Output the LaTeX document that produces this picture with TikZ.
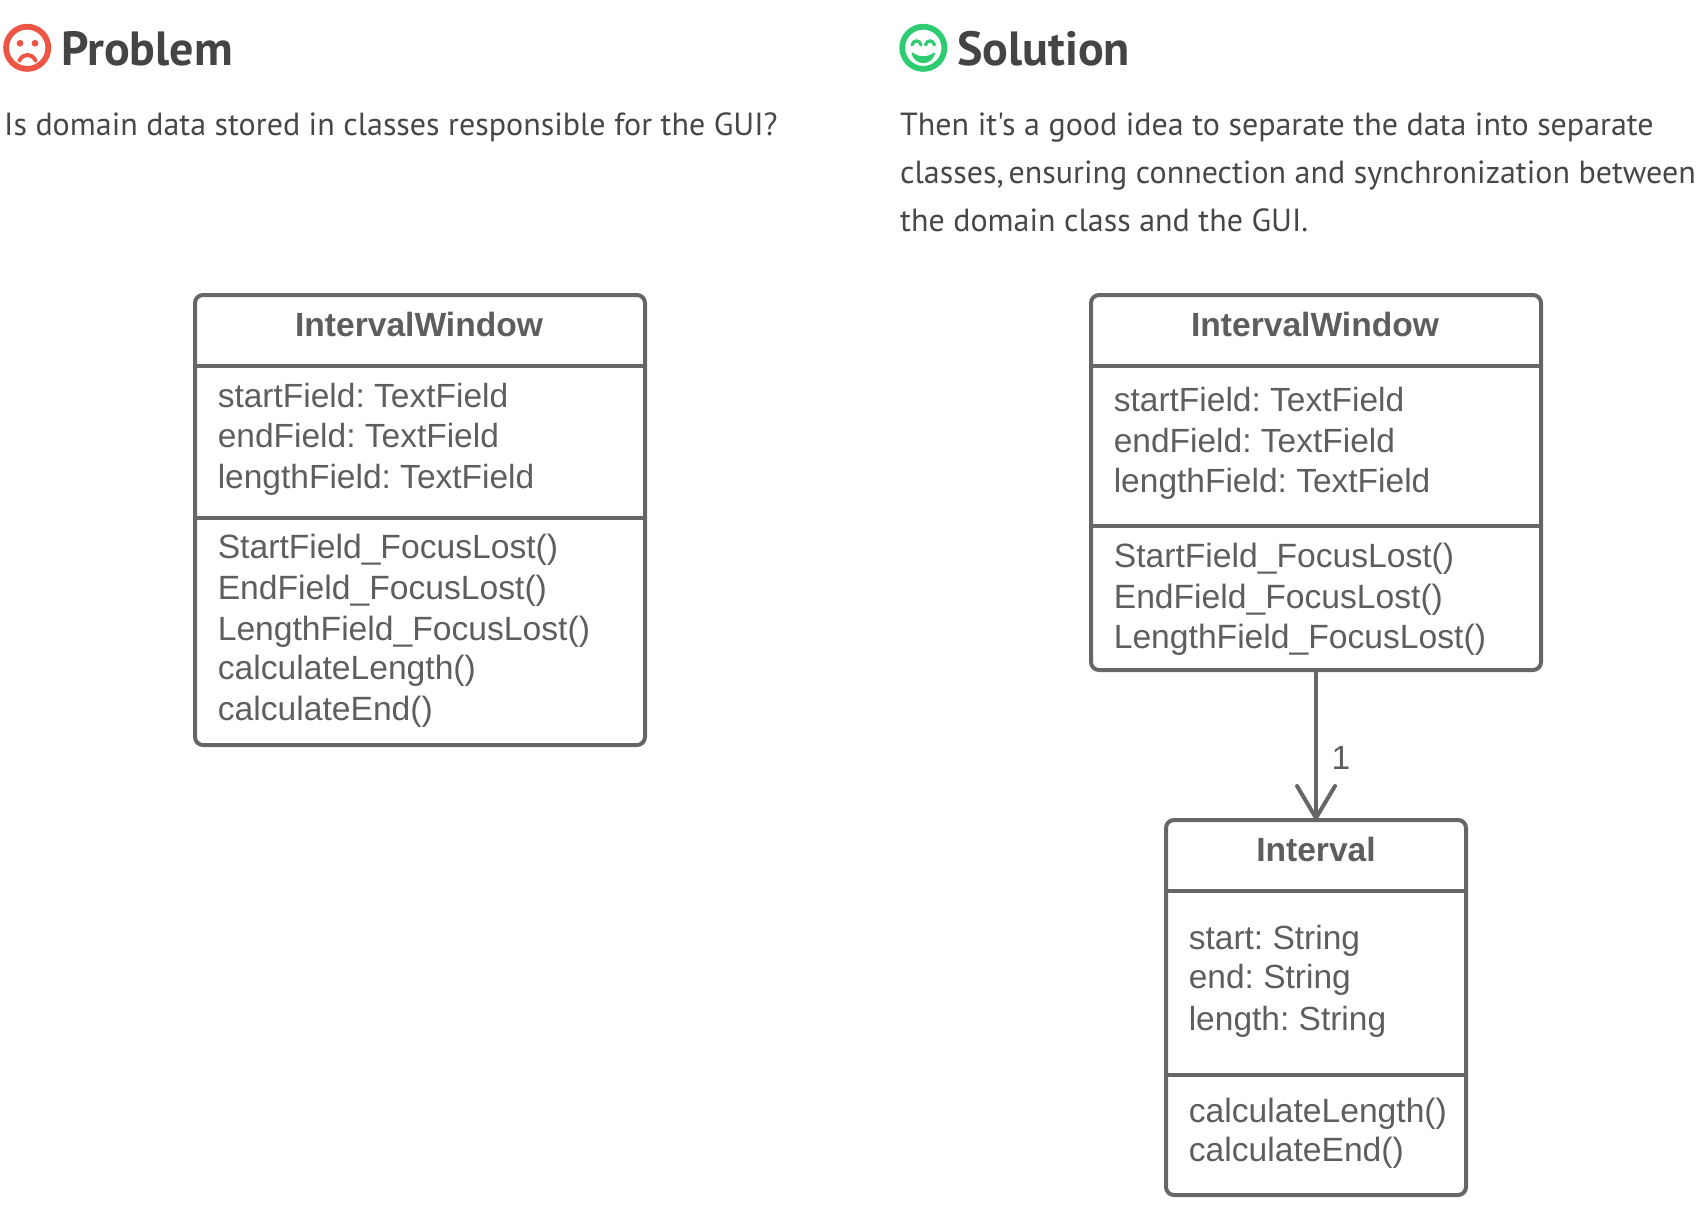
\documentclass[tikz,border=0pt]{standalone}
\usepackage{fontspec}
\setmainfont{Liberation Sans}
\newfontfamily\ptsans{PT Sans}
\usetikzlibrary{arrows.meta}
\frenchspacing
\definecolor{umlline}{HTML}{666666}
\definecolor{umltext}{HTML}{5E5E5E}
\definecolor{headtext}{HTML}{444444}
\definecolor{bodytext}{HTML}{474747}
\definecolor{sadred}{HTML}{EE5544}
\definecolor{happygreen}{HTML}{2ECC71}
\tikzset{
  umlbox/.style={draw=umlline,line width=4pt,rounded corners=8pt,inner sep=0pt,outer sep=0pt,anchor=north west},
  divider/.style={draw=umlline,line width=4pt},
  member/.style={anchor=base west,inner sep=0pt,text=umltext,font=\fontsize{33.5}{33.5}\selectfont},
  method/.style={anchor=base west,inner sep=0pt,text=umltext,font=\fontsize{33.65}{33.65}\selectfont},
  classname/.style={anchor=base,inner sep=0pt,text=umltext,font=\fontsize{33.6}{33.6}\selectfont\bfseries},
  heading/.style={anchor=base west,inner sep=0pt,text=headtext,font=\ptsans\fontsize{48}{48}\selectfont\bfseries},
  bodyline/.style={anchor=base west,inner sep=0pt,text=bodytext,font=\ptsans\fontsize{32}{32}\selectfont},
  assoc/.style={draw=umlline,line width=4pt,-{Straight Barb[length=32pt,width=38pt,line width=4pt,round]}},
}
\begin{document}
\begin{tikzpicture}[x=1pt,y=-1pt]
\useasboundingbox (0,0) rectangle (1706,1208);
% headings
\draw[sadred,line width=5.8pt] (27.2,47.8) circle (21.1);
\fill[sadred] (20,43.3) circle (3.4) (35,43.3) circle (3.4);
\draw[sadred,line width=4pt,line cap=round] (19.5,60.5) .. controls (23,53) and (32,53) .. (35.5,60.5);
\node[heading] (probhead) at (61,65) {Problem};
\node[bodyline] (prob1) at (4,135) {Is domain data stored in classes responsible for the GUI?};
\draw[happygreen,line width=5.8pt] (923.3,47.8) circle (21.1);
\draw[happygreen,line width=3.2pt,line cap=round] (912,45) .. controls (913.5,39.5) and (919.5,39.5) .. (921,45) (925.5,45) .. controls (927,39.5) and (933,39.5) .. (934.5,45);
\filldraw[happygreen,line width=2pt,line join=round] (912.5,53.5) .. controls (916,65) and (930.5,65) .. (934,53.5) .. controls (928.5,58.5) and (918,58.5) .. (912.5,53.5) -- cycle;
\node[heading] (solhead) at (957,65) {Solution};
\node[bodyline] (sol1) at (900,135) {Then it's a good idea to separate the data into separate};
\node[bodyline] (sol2) at (900,183) {classes,\kern 5pt\relax ensuring connection and synchronization between};
\node[bodyline] (sol3) at (900,231) {the domain class and the GUI.};
% left IntervalWindow
\node[umlbox,minimum width=450pt,minimum height=450pt] (winA) at (195,295) {};
\coordinate (a1) at (195,366); \coordinate (a1e) at (645,366);
\coordinate (a2) at (195,518); \coordinate (a2e) at (645,518);
\draw[divider] (a1) -- (a1e);
\draw[divider] (a2) -- (a2e);
\node[classname] (winAt) at (419,336) {IntervalWindow};
\node[member] (a01) at (217.6,407.5) {startField: TextField};
\node[member] (a02) at (217.6,447.5) {endField: TextField};
\node[member] (a03) at (217.6,488.5) {lengthField: TextField};
\node[method] (a04) at (217.6,558) {StartField\_FocusLost()};
\node[method] (a05) at (217.6,599) {EndField\_FocusLost()};
\node[method] (a06) at (217.6,640) {LengthField\_FocusLost()};
\node[method] (a07) at (217.6,679.5) {calculateLength()};
\node[method] (a08) at (217.6,720.5) {calculateEnd()};
% right IntervalWindow
\node[umlbox,minimum width=450pt,minimum height=375pt] (winB) at (1091,295) {};
\coordinate (b1) at (1091,366); \coordinate (b1e) at (1541,366);
\coordinate (b2) at (1091,526); \coordinate (b2e) at (1541,526);
\draw[divider] (b1) -- (b1e);
\draw[divider] (b2) -- (b2e);
\node[classname] (winBt) at (1315,336) {IntervalWindow};
\node[member] (b01) at (1113.6,411) {startField: TextField};
\node[member] (b02) at (1113.6,452.5) {endField: TextField};
\node[member] (b03) at (1113.6,492) {lengthField: TextField};
\node[method] (b04) at (1113.6,567) {StartField\_FocusLost()};
\node[method] (b05) at (1113.6,608) {EndField\_FocusLost()};
\node[method] (b06) at (1113.6,648) {LengthField\_FocusLost()};
% Interval
\node[umlbox,minimum width=300pt,minimum height=375pt] (intv) at (1166,820) {};
\coordinate (c1) at (1166,891); \coordinate (c1e) at (1466,891);
\coordinate (c2) at (1166,1075); \coordinate (c2e) at (1466,1075);
\draw[divider] (c1) -- (c1e);
\draw[divider] (c2) -- (c2e);
\node[classname] (intvt) at (1316,861) {Interval};
\node[member] (c01) at (1188.6,949) {start: String};
\node[member] (c02) at (1188.6,988.5) {end: String};
\node[member] (c03) at (1188.6,1030) {length: String};
\node[method] (c04) at (1188.6,1122) {calculateLength()};
\node[method] (c05) at (1188.6,1161) {calculateEnd()};
% connector
\draw[assoc] (winB.south) -- (intv.north) node[pos=0.585,right=13.5pt,inner sep=0pt,text=umltext,font=\fontsize{33.6}{33.6}\selectfont] (mult) {1};
\end{tikzpicture}
\end{document}
